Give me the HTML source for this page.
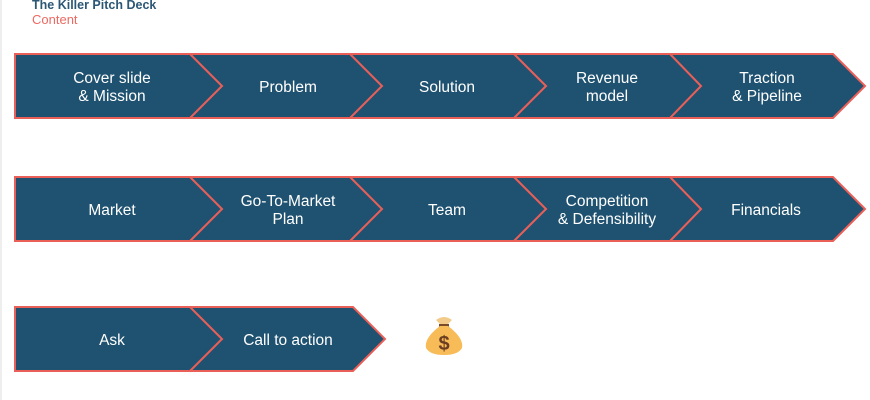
<!DOCTYPE html>
<html><head><meta charset="utf-8"><style>
html,body{margin:0;padding:0;background:#fff;}
body{width:870px;height:400px;overflow:hidden;position:relative;font-family:"Liberation Sans",sans-serif;}
.strip{position:absolute;left:0;top:0;width:2px;height:400px;background:#eee;}
.t1{position:absolute;left:32px;top:-2px;font-size:12.5px;font-weight:bold;color:#2c5775;}
.t2{position:absolute;left:32px;top:12px;font-size:13px;color:#ec6a62;}
svg{position:absolute;left:0;top:0;}
</style></head><body>
<div class="strip"></div>
<div class="t1">The Killer Pitch Deck</div>
<div class="t2">Content</div>
<svg width="870" height="400" xmlns="http://www.w3.org/2000/svg" font-family="Liberation Sans, sans-serif" font-size="15.5" fill="#fff" text-anchor="middle">
<g stroke="#ea5f58" stroke-width="2" fill="#1f5270">
<polygon points="15,54 833,54 865,86 833,118 15,118"/>
<polygon points="15,177 833,177 865,209 833,241 15,241"/>
<polygon points="15,307 353,307 385,339 353,371 15,371"/>
</g>
<g stroke="#ea5f58" stroke-width="2" fill="none">
<polyline points="190,54 222,86 190,118"/>
<polyline points="350,54 382,86 350,118"/>
<polyline points="514,54 546,86 514,118"/>
<polyline points="670,54 701,86 670,118"/>
<polyline points="190,177 222,209 190,241"/>
<polyline points="350,177 382,209 350,241"/>
<polyline points="514,177 546,209 514,241"/>
<polyline points="670,177 701,209 670,241"/>
<polyline points="190,307 222,339 190,371"/>
</g>
<g fill="#fff">
<text x="112" y="83">Cover slide</text><text x="112" y="101">&amp; Mission</text>
<text x="288" y="92">Problem</text>
<text x="447" y="92">Solution</text>
<text x="607" y="83">Revenue</text><text x="607" y="101">model</text>
<text x="767" y="83">Traction</text><text x="767" y="101">&amp; Pipeline</text>
<text x="112" y="215">Market</text>
<text x="288" y="206">Go-To-Market</text><text x="288" y="224">Plan</text>
<text x="447" y="215">Team</text>
<text x="607" y="206">Competition</text><text x="607" y="224">&amp; Defensibility</text>
<text x="766" y="215">Financials</text>
<text x="112" y="345">Ask</text>
<text x="288" y="345">Call to action</text>
</g>
<g>
<path d="M436,320 Q444,314 452,320 L448,324 L440,324 Z" fill="#f2cb8a"/>
<rect x="439" y="324" width="10" height="2.5" fill="#7a4a2a"/>
<path d="M440,326 Q424,338 426,348 Q430,355 444,355 Q458,355 462,348 Q464,338 448,326 Z" fill="#f7bb57"/>
<text x="444" y="350" font-size="20" font-weight="bold" fill="#6b3d22">$</text>
</g>
</svg>
</body></html>
